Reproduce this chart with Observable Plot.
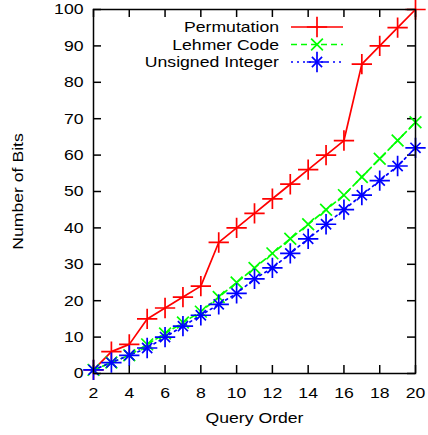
<!DOCTYPE html>
<html>
<head>
<meta charset="utf-8">
<script src="https://cdn.jsdelivr.net/npm/d3@7"></script>
<script src="https://cdn.jsdelivr.net/npm/@observablehq/plot@0.6"></script>
<style>
  html, body { margin: 0; padding: 0; background: #fff; }
  #chart { width: 428px; height: 435px; }
</style>
</head>
<body>
<div id="chart"></div>
<script>
const orders = [2,3,4,5,6,7,8,9,10,11,12,13,14,15,16,17,18,19,20];
const permutation = [1,6,8,15,18,21,24,36,40,44,48,52,56,60,64,85,90,95,100];
const lehmer = [1,3,5,8,11,14,17,21,25,29,33,37,41,45,49,54,59,64,69];
const unsigned = [1,3,5,7,10,13,16,19,22,26,29,33,37,41,45,49,53,57,62];
const seriesNames = ["Permutation", "Lehmer Code", "Unsigned Integer"];
const xTicks = [2,4,6,8,10,12,14,16,18,20];
const yTicks = [0,10,20,30,40,50,60,70,80,90,100];

const colors = ["#ff0000", "#00ff00", "#0000ff"];
const dashes = [null, "6,4", "2,4"];

const W = 428, H = 435, ML = 93, MR = 13, MT = 9, MB = 62;
const frameW = W - ML - MR, frameH = H - MT - MB, TICK = 8;

const rows = (vals) => orders.map((x, i) => ({x, y: vals[i]}));
const permRows = rows(permutation);
const lehRows = rows(lehmer);
const uintRows = rows(unsigned);

// symbol r for target half-extent
const plusR = h => Math.sqrt(((h / 0.59436) ** 2 + 28) / Math.PI);
const timesR = h => Math.sqrt(((h / 0.6189) ** 2 + 4) / Math.PI);

const font = "'Liberation Sans', Arial, Helvetica, sans-serif";
const FS = 15;

const plot = Plot.plot({
  width: W,
  height: H,
  marginLeft: ML,
  marginRight: MR,
  marginTop: MT,
  marginBottom: MB,
  style: {fontFamily: font, fontSize: FS + "px", color: "#000", background: "#fff"},
  x: {domain: [2, 20], axis: null},
  y: {domain: [0, 100], axis: null},
  marks: [
    Plot.tickX(xTicks, {x: d => d, insetTop: frameH - TICK, stroke: "#000", strokeWidth: 1.5}),
    Plot.tickX(xTicks, {x: d => d, insetBottom: frameH - TICK, stroke: "#000", strokeWidth: 1.5}),
    Plot.tickY(yTicks, {y: d => d, insetRight: frameW - TICK, stroke: "#000", strokeWidth: 1.5}),
    Plot.tickY(yTicks, {y: d => d, insetLeft: frameW - TICK, stroke: "#000", strokeWidth: 1.5}),
    Plot.text(xTicks, {x: d => d, text: d => String(d), frameAnchor: "bottom", dy: 20, lineAnchor: "middle", fill: "#000"}),
    Plot.text(yTicks, {y: d => d, text: d => String(d), frameAnchor: "left", dx: -10, textAnchor: "end", fill: "#000"}),
    Plot.line(permRows, {x: "x", y: "y", stroke: colors[0], strokeWidth: 1.7}),
    Plot.line(lehRows, {x: "x", y: "y", stroke: colors[1], strokeWidth: 1.7, strokeDasharray: dashes[1]}),
    Plot.line(uintRows, {x: "x", y: "y", stroke: colors[2], strokeWidth: 1.7, strokeDasharray: dashes[2]}),
    Plot.dot(permRows, {x: "x", y: "y", symbol: "plus", r: plusR(6.2), stroke: colors[0], strokeWidth: 1.7}),
    Plot.dot(lehRows, {x: "x", y: "y", symbol: "times", r: timesR(5.8), stroke: colors[1], strokeWidth: 1.7}),
    Plot.dot(uintRows, {x: "x", y: "y", symbol: "plus", r: plusR(6.2), stroke: colors[2], strokeWidth: 1.7}),
    Plot.dot(uintRows, {x: "x", y: "y", symbol: "times", r: timesR(5), stroke: colors[2], strokeWidth: 1.7}),
    Plot.frame({stroke: "#000", strokeWidth: 1.5}),
    Plot.text(["Query Order"], {frameAnchor: "bottom", dy: 45, lineAnchor: "middle", textAnchor: "middle", text: d => d, fill: "#000"}),
    Plot.text(["Number of Bits"], {frameAnchor: "left", dx: -75, rotate: -90, textAnchor: "middle", lineAnchor: "middle", text: d => d, fill: "#000"})
  ]
});

// Legend (inside plot, top right)
const svg = d3.select(plot);
const legend = svg.append("g").attr("font-family", font).attr("font-size", FS);
const legendY = [27, 44.5, 62];
const lineX1 = 291, lineX2 = 343, textX = 279;
seriesNames.forEach((name, i) => {
  const y = legendY[i];
  legend.append("text").attr("transform", `translate(${textX},${y})`).attr("dy", "0.35em")
    .attr("text-anchor", "end").attr("fill", "#000").text(name);
  legend.append("line").attr("x1", lineX1).attr("x2", lineX2).attr("y1", y).attr("y2", y)
    .attr("stroke", colors[i]).attr("stroke-width", 1.7)
    .attr("stroke-dasharray", dashes[i]);
  const cx = (lineX1 + lineX2) / 2;
  const syms = i === 0 ? [[d3.symbolPlus, plusR(6.2)]] : i === 1 ? [[d3.symbolTimes, timesR(5.8)]] : [[d3.symbolPlus, plusR(6.2)], [d3.symbolTimes, timesR(5)]];
  syms.forEach(([s, r]) => {
    legend.append("path").attr("transform", `translate(${cx},${y})`)
      .attr("d", d3.symbol(s, r * r * Math.PI)())
      .attr("fill", "none").attr("stroke", colors[i]).attr("stroke-width", 1.7);
  });
});

document.getElementById("chart").appendChild(plot);

// The reference font is horizontally stretched; widen glyphs about each text's anchor.
const STRETCH = 1.175;
plot.querySelectorAll("text").forEach(el => {
  const t = el.getAttribute("transform");
  if (t) el.setAttribute("transform", `${t} scale(${STRETCH},1)`);
});
</script>
</body>
</html>
